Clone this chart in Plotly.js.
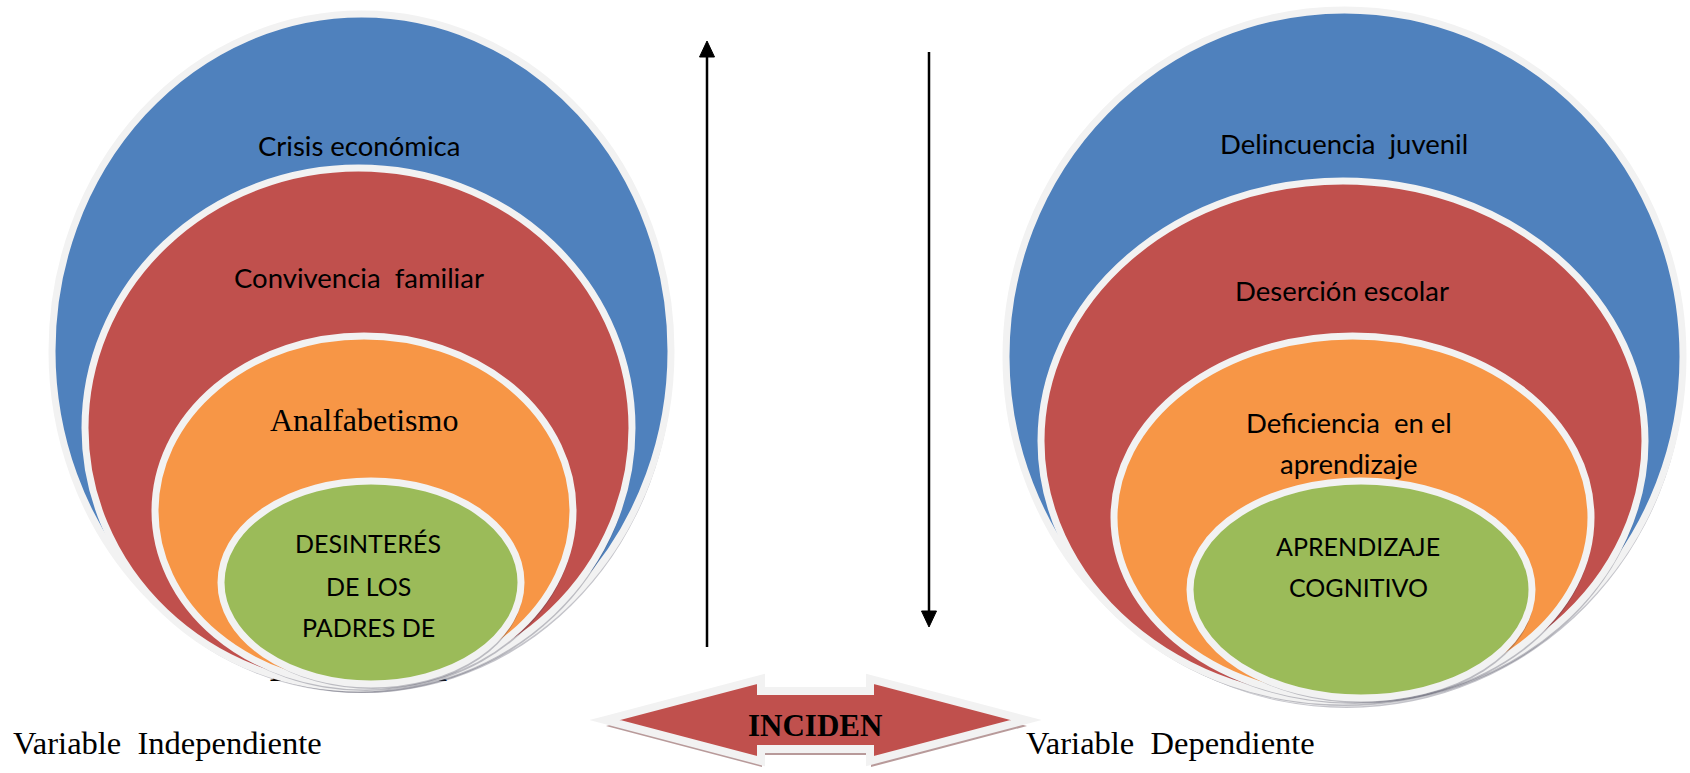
<!DOCTYPE html>
<html>
<head>
<meta charset="utf-8">
<script src="https://cdn.plot.ly/plotly-3.0.1.min.js"></script>
<style>html,body{margin:0;padding:0;background:#fff;}#chart{width:1690px;height:773px;}</style>
</head>
<body>
<div id="chart"></div>
<script>
// ---- content (data) ----
const leftLayerLabels = [["Crisis económica"], ["Convivencia\u00A0 familiar"], ["Analfabetismo"], ["DESINTERÉS", "DE LOS", "PADRES DE"]];
const rightLayerLabels = [["Delincuencia\u00A0 juvenil"], ["Deserción escolar"], ["Deficiencia\u00A0 en el", "aprendizaje"], ["APRENDIZAJE", "COGNITIVO"]];
const hiddenLabel = ["INFANCIA"];
const variableLabels = ["Variable\u00A0 Independiente", "Variable\u00A0 Dependiente"];
const linkLabel = ["INCIDEN"];

// ---- styles / geometry ----
const layerColors = ["#4F81BD", "#C0504D", "#F79646", "#9BBB59"];
const borderColor = "#F2F2F2";
const SANS = "Lato, 'Open Sans', sans-serif";
const SERIF = "'Liberation Serif', 'Times New Roman', serif";

const leftBoxes = [[52, 14, 671, 688], [85, 168, 632, 688], [155, 336, 573, 686], [221, 481, 521, 684]];
const rightBoxes = [[1006, 10, 1683, 703], [1041, 181, 1645, 701], [1114, 336, 1591, 699], [1190, 481, 1532, 698]];
const leftTextPos = [[[359, 145]], [[359, 277]], [[364, 420]], [[368, 543], [368, 586], [368, 627]]];
const rightTextPos = [[[1344, 143]], [[1342, 290]], [[1349, 422], [1349, 463]], [[1358, 546], [1358, 587]]];
const leftFonts = [SANS, SANS, SERIF, SANS];
const leftSizes = [27.5, 27.5, 32, 25];
const rightFonts = [SANS, SANS, SANS, SANS];
const rightSizes = [27.5, 27.5, 27.5, 25];

const shapes = [];
const annotations = [];

function addEllipses(boxes) {
  boxes.forEach((b, i) => {
    shapes.push({type: "circle", xref: "x", yref: "y", x0: b[0] + 2, y0: b[1] + 5, x1: b[2] + 2, y1: b[3] + 5,
      fillcolor: "rgba(60,60,80,0.30)", line: {width: 0}});
    shapes.push({type: "circle", xref: "x", yref: "y", x0: b[0], y0: b[1], x1: b[2], y1: b[3],
      fillcolor: layerColors[i], line: {color: borderColor, width: 7}});
  });
}
addEllipses(leftBoxes);
addEllipses(rightBoxes);

function addLabels(labels, pos, fonts, sizes) {
  labels.forEach((lines, i) => {
    lines.forEach((t, j) => {
      annotations.push({x: pos[i][j][0], y: pos[i][j][1], xref: "x", yref: "y", text: t, showarrow: false,
        xanchor: "center", yanchor: "middle", font: {family: fonts[i], size: sizes[i], color: "#000"}});
    });
  });
}
addLabels(leftLayerLabels, leftTextPos, leftFonts, leftSizes);
addLabels(rightLayerLabels, rightTextPos, rightFonts, rightSizes);

// vertical arrows
shapes.push({type: "line", x0: 707, y0: 647, x1: 707, y1: 54, line: {color: "#000", width: 2.5}});
shapes.push({type: "path", path: "M 699.5 57 L 707 41 L 714.5 57 Z", fillcolor: "#000", line: {color: "#000", width: 1}});
shapes.push({type: "line", x0: 929, y0: 52, x1: 929, y1: 614, line: {color: "#000", width: 2.5}});
shapes.push({type: "path", path: "M 921.5 611 L 929 627 L 936.5 611 Z", fillcolor: "#000", line: {color: "#000", width: 1}});

// double arrow
function arrowPath(dx, dy) {
  const p = [[605, 720], [761, 679], [761, 691], [870, 691], [870, 679], [1026, 720], [870, 761], [870, 749], [761, 749], [761, 761]];
  return "M " + p.map(q => (q[0] + dx) + " " + (q[1] + dy)).join(" L ") + " Z";
}
shapes.push({type: "path", path: arrowPath(1, 6), fillcolor: "rgba(160,120,120,0.75)", line: {width: 0}});
shapes.push({type: "path", path: arrowPath(0, 0), fillcolor: "#C0504D", line: {color: borderColor, width: 8}});

annotations.push({x: 815, y: 725, xref: "x", yref: "y", text: "<b>" + linkLabel[0] + "</b>", showarrow: false,
  font: {family: SERIF, size: 31, color: "#000"}});
annotations.push({x: 11, y: 743, xref: "x", yref: "y", text: variableLabels[0], showarrow: false, xanchor: "left",
  font: {family: SERIF, size: 32.5, color: "#000"}});
annotations.push({x: 1024, y: 743, xref: "x", yref: "y", text: variableLabels[1], showarrow: false, xanchor: "left",
  font: {family: SERIF, size: 32.5, color: "#000"}});

const traces = [{
  type: "scatter", mode: "text", x: [358], y: [672], text: hiddenLabel.map(t => "<b>" + t + "</b>"),
  textposition: "middle center", textfont: {family: SERIF, size: 36, color: "#000"},
  hoverinfo: "skip", cliponaxis: false, showlegend: false
}];

const layout = {
  width: 1690, height: 773, margin: {l: 0, r: 0, t: 0, b: 0},
  paper_bgcolor: "#fff", plot_bgcolor: "#fff", showlegend: false,
  xaxis: {range: [0, 1690], visible: false, fixedrange: true},
  yaxis: {range: [773, 0], visible: false, fixedrange: true},
  shapes: shapes, annotations: annotations
};
Plotly.newPlot("chart", traces, layout, {displayModeBar: false, staticPlot: true});
</script>
</body>
</html>
